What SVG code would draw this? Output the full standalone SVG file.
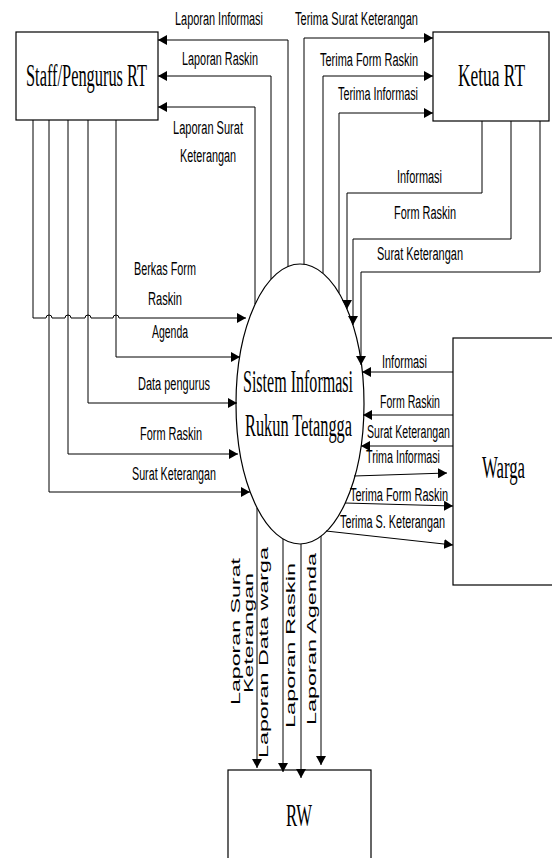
<svg xmlns="http://www.w3.org/2000/svg" width="552" height="858" viewBox="0 0 552 858">
<style>
.node{fill:#fff;stroke:#000;stroke-width:1.2}
.nt{font-family:"Liberation Serif","Times New Roman",serif;font-size:31px;fill:#000}
.ln{fill:none;stroke:#000;stroke-width:1;marker-end:url(#ah)}
.lb{font-family:"Liberation Sans",Arial,sans-serif;font-size:18px;fill:#000}
.rl{font-family:"Liberation Sans",Arial,sans-serif;font-size:12px;fill:#000}
</style>
<defs>
<marker id="ah" viewBox="0 0 10 10" refX="10" refY="5" markerWidth="9" markerHeight="10" markerUnits="userSpaceOnUse" orient="auto" preserveAspectRatio="none">
<path d="M0,0 L10,5 L0,10 z" fill="#000"/>
</marker>
</defs>
<rect width="552" height="858" fill="#fff"/>

<g id="staff">
<rect class="node" x="16" y="32" width="142" height="88"/>
<text class="nt" x="26" y="86" textLength="121" lengthAdjust="spacingAndGlyphs">Staff/Pengurus RT</text>
</g>
<g id="ketua">
<rect class="node" x="433" y="32" width="116" height="89"/>
<text class="nt" x="458" y="86" textLength="67" lengthAdjust="spacingAndGlyphs">Ketua RT</text>
</g>
<g id="sistem">
<ellipse class="node" cx="300" cy="404" rx="64" ry="140"/>
<text class="nt" x="243" y="392" textLength="110" lengthAdjust="spacingAndGlyphs">Sistem Informasi</text>
<text class="nt" x="245" y="436" textLength="107" lengthAdjust="spacingAndGlyphs">Rukun Tetangga</text>
</g>
<g id="warga">
<rect class="node" x="453" y="338" width="110" height="247"/>
<text class="nt" x="482" y="478" textLength="43" lengthAdjust="spacingAndGlyphs">Warga</text>
</g>
<g id="rw">
<rect class="node" x="228" y="770" width="143" height="100"/>
<text class="nt" x="286" y="826" textLength="26" lengthAdjust="spacingAndGlyphs">RW</text>
</g>

<g id="connectors">
<g><path class="ln" d="M288,266.5 V40 H158"/><text class="lb" x="175" y="25" textLength="88" lengthAdjust="spacingAndGlyphs">Laporan Informasi</text></g>
<g><path class="ln" d="M271,279 V76 H158"/><text class="lb" x="182" y="65" textLength="76" lengthAdjust="spacingAndGlyphs">Laporan Raskin</text></g>
<g><path class="ln" d="M255,304 V107 H158"/><text class="lb" x="173" y="134" textLength="70" lengthAdjust="spacingAndGlyphs">Laporan Surat</text><text class="lb" x="180" y="162" textLength="56" lengthAdjust="spacingAndGlyphs">Keterangan</text></g>
<g><path class="ln" d="M304,264.3 V38 H433"/><text class="lb" x="295" y="25" textLength="123" lengthAdjust="spacingAndGlyphs">Terima Surat Keterangan</text></g>
<g><path class="ln" d="M323,273 V76 H433"/><text class="lb" x="320" y="66" textLength="98" lengthAdjust="spacingAndGlyphs">Terima Form Raskin</text></g>
<g><path class="ln" d="M339,293 V113 H433"/><text class="lb" x="338" y="100" textLength="80" lengthAdjust="spacingAndGlyphs">Terima Informasi</text></g>
<g><path class="ln" d="M482,121 V193 H347 V309"/><text class="lb" x="397" y="183" textLength="45" lengthAdjust="spacingAndGlyphs">Informasi</text></g>
<g><path class="ln" d="M511,121 V239 H353 V325"/><text class="lb" x="394" y="219" textLength="62" lengthAdjust="spacingAndGlyphs">Form Raskin</text></g>
<g><path class="ln" d="M540,121 V272 H361 V365"/><text class="lb" x="377" y="260" textLength="86" lengthAdjust="spacingAndGlyphs">Surat Keterangan</text></g>
<g><path class="ln" d="M33,120 V318 H46 A3,3 0 0 1 52,318 H65 A3,3 0 0 1 71,318 H85 A3,3 0 0 1 91,318 H113 A3,3 0 0 1 119,318 H246"/><text class="lb" x="134" y="275" textLength="62" lengthAdjust="spacingAndGlyphs">Berkas Form</text><text class="lb" x="148" y="305" textLength="34" lengthAdjust="spacingAndGlyphs">Raskin</text></g>
<g><path class="ln" d="M116,120 V357 H240"/><text class="lb" x="152" y="338" textLength="36" lengthAdjust="spacingAndGlyphs">Agenda</text></g>
<g><path class="ln" d="M88,120 V403 H237"/><text class="lb" x="138" y="390" textLength="72" lengthAdjust="spacingAndGlyphs">Data pengurus</text></g>
<g><path class="ln" d="M68,120 V454 H238"/><text class="lb" x="140" y="440" textLength="62" lengthAdjust="spacingAndGlyphs">Form Raskin</text></g>
<g><path class="ln" d="M49,120 V492 H250"/><text class="lb" x="132" y="480" textLength="84" lengthAdjust="spacingAndGlyphs">Surat Keterangan</text></g>
<g><path class="ln" d="M453,372 H362"/><text class="lb" x="382" y="368" textLength="45" lengthAdjust="spacingAndGlyphs">Informasi</text></g>
<g><path class="ln" d="M453,415 H363"/><text class="lb" x="380" y="408" textLength="60" lengthAdjust="spacingAndGlyphs">Form Raskin</text></g>
<g><path class="ln" d="M453,446 H361"/><text class="lb" x="367" y="438" textLength="83" lengthAdjust="spacingAndGlyphs">Surat Keterangan</text></g>
<g><path class="ln" d="M354,476 L447,473"/><text class="lb" x="366" y="463" textLength="74" lengthAdjust="spacingAndGlyphs">Trima Informasi</text></g>
<g><path class="ln" d="M345,503 L453,506"/><text class="lb" x="350" y="501" textLength="98" lengthAdjust="spacingAndGlyphs">Terima Form Raskin</text></g>
<g><path class="ln" d="M326,531 L453,545"/><text class="lb" x="340" y="528" textLength="105" lengthAdjust="spacingAndGlyphs">Terima S. Keterangan</text></g>
<g><path class="ln" d="M257,508 V768"/><text class="rl" transform="translate(240,705) rotate(-90)" textLength="147" lengthAdjust="spacingAndGlyphs">Laporan Surat</text><text class="rl" transform="translate(253,693) rotate(-90)" textLength="120" lengthAdjust="spacingAndGlyphs">Keterangan</text></g>
<g><path class="ln" d="M283,539 V772"/><text class="rl" transform="translate(268,758) rotate(-90)" textLength="211" lengthAdjust="spacingAndGlyphs">Laporan Data warga</text></g>
<g><path class="ln" d="M301,544 V778"/><text class="rl" transform="translate(295,728) rotate(-90)" textLength="165" lengthAdjust="spacingAndGlyphs">Laporan Raskin</text></g>
<g><path class="ln" d="M321,536 V765"/><text class="rl" transform="translate(316,725) rotate(-90)" textLength="172" lengthAdjust="spacingAndGlyphs">Laporan Agenda</text></g>
</g>
</svg>
